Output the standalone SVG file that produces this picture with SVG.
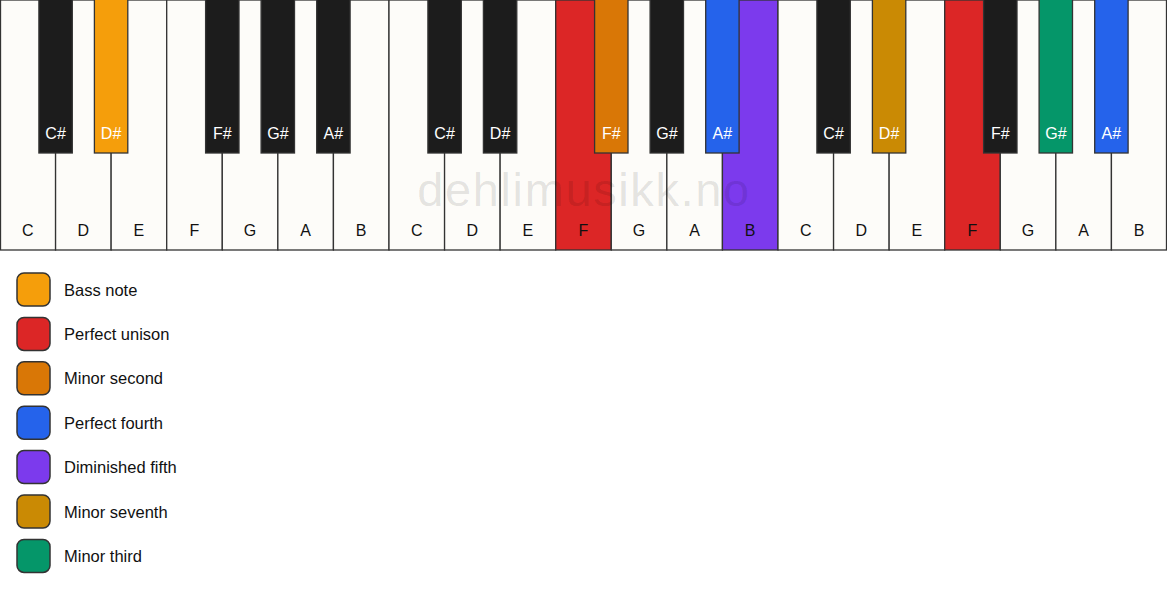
<svg xmlns="http://www.w3.org/2000/svg" width="1167" height="594" viewBox="0 0 1167 594">
<style>
.wk{fill:#fdfcf9;stroke:#333;stroke-width:1.3}
.bk{fill:#1c1c1c;stroke:#333;stroke-width:1.3}
.wl{font-family:"Liberation Sans",Arial,sans-serif;font-size:16px;fill:#111;text-anchor:middle}
.bl{font-family:"Liberation Sans",Arial,sans-serif;font-size:16px;fill:#fff;text-anchor:middle}
.sw{stroke:#333;stroke-width:1.5}
.lt{font-family:"Liberation Sans",Arial,sans-serif;font-size:16.5px;fill:#111}
.wm{font-family:"Liberation Sans",Arial,sans-serif;font-size:47px;fill:#000;fill-opacity:0.11;text-anchor:middle;letter-spacing:1.6px}
</style>
<rect width="1167" height="594" fill="#ffffff"/>
<g id="white-keys">
<g id="w0"><rect class="wk" x="0.5" y="0" width="55.07" height="250"/><text class="wl" x="27.8" y="236">C</text></g>
<g id="w1"><rect class="wk" x="55.57" y="0" width="55.57" height="250"/><text class="wl" x="83.4" y="236">D</text></g>
<g id="w2"><rect class="wk" x="111.14" y="0" width="55.57" height="250"/><text class="wl" x="138.9" y="236">E</text></g>
<g id="w3"><rect class="wk" x="166.71" y="0" width="55.57" height="250"/><text class="wl" x="194.5" y="236">F</text></g>
<g id="w4"><rect class="wk" x="222.29" y="0" width="55.57" height="250"/><text class="wl" x="250.1" y="236">G</text></g>
<g id="w5"><rect class="wk" x="277.86" y="0" width="55.57" height="250"/><text class="wl" x="305.6" y="236">A</text></g>
<g id="w6"><rect class="wk" x="333.43" y="0" width="55.57" height="250"/><text class="wl" x="361.2" y="236">B</text></g>
<g id="w7"><rect class="wk" x="389" y="0" width="55.57" height="250"/><text class="wl" x="416.8" y="236">C</text></g>
<g id="w8"><rect class="wk" x="444.57" y="0" width="55.57" height="250"/><text class="wl" x="472.4" y="236">D</text></g>
<g id="w9"><rect class="wk" x="500.14" y="0" width="55.57" height="250"/><text class="wl" x="527.9" y="236">E</text></g>
<g id="w10"><rect class="wk" x="555.71" y="0" width="55.57" height="250" style="fill:#dc2626"/><text class="wl" x="583.5" y="236">F</text></g>
<g id="w11"><rect class="wk" x="611.29" y="0" width="55.57" height="250"/><text class="wl" x="639.1" y="236">G</text></g>
<g id="w12"><rect class="wk" x="666.86" y="0" width="55.57" height="250"/><text class="wl" x="694.6" y="236">A</text></g>
<g id="w13"><rect class="wk" x="722.43" y="0" width="55.57" height="250" style="fill:#7c3aed"/><text class="wl" x="750.2" y="236">B</text></g>
<g id="w14"><rect class="wk" x="778" y="0" width="55.57" height="250"/><text class="wl" x="805.8" y="236">C</text></g>
<g id="w15"><rect class="wk" x="833.57" y="0" width="55.57" height="250"/><text class="wl" x="861.4" y="236">D</text></g>
<g id="w16"><rect class="wk" x="889.14" y="0" width="55.57" height="250"/><text class="wl" x="916.9" y="236">E</text></g>
<g id="w17"><rect class="wk" x="944.71" y="0" width="55.57" height="250" style="fill:#dc2626"/><text class="wl" x="972.5" y="236">F</text></g>
<g id="w18"><rect class="wk" x="1000.29" y="0" width="55.57" height="250"/><text class="wl" x="1028.1" y="236">G</text></g>
<g id="w19"><rect class="wk" x="1055.86" y="0" width="55.57" height="250"/><text class="wl" x="1083.6" y="236">A</text></g>
<g id="w20"><rect class="wk" x="1111.43" y="0" width="55.07" height="250"/><text class="wl" x="1139.2" y="236">B</text></g>
</g>
<text class="wm" x="584" y="206">dehlimusikk.no</text>
<g id="black-keys">
<g id="b1"><rect class="bk" x="38.9" y="-1" width="33.4" height="154"/><text class="bl" x="55.6" y="139">C#</text></g>
<g id="b2"><rect class="bk" x="94.4" y="-1" width="33.4" height="154" style="fill:#f59e0b"/><text class="bl" x="111.1" y="139">D#</text></g>
<g id="b4"><rect class="bk" x="205.6" y="-1" width="33.4" height="154"/><text class="bl" x="222.3" y="139">F#</text></g>
<g id="b5"><rect class="bk" x="261.1" y="-1" width="33.4" height="154"/><text class="bl" x="277.9" y="139">G#</text></g>
<g id="b6"><rect class="bk" x="316.7" y="-1" width="33.4" height="154"/><text class="bl" x="333.4" y="139">A#</text></g>
<g id="b8"><rect class="bk" x="427.9" y="-1" width="33.4" height="154"/><text class="bl" x="444.6" y="139">C#</text></g>
<g id="b9"><rect class="bk" x="483.4" y="-1" width="33.4" height="154"/><text class="bl" x="500.1" y="139">D#</text></g>
<g id="b11"><rect class="bk" x="594.6" y="-1" width="33.4" height="154" style="fill:#d97706"/><text class="bl" x="611.3" y="139">F#</text></g>
<g id="b12"><rect class="bk" x="650.1" y="-1" width="33.4" height="154"/><text class="bl" x="666.9" y="139">G#</text></g>
<g id="b13"><rect class="bk" x="705.7" y="-1" width="33.4" height="154" style="fill:#2563eb"/><text class="bl" x="722.4" y="139">A#</text></g>
<g id="b15"><rect class="bk" x="816.9" y="-1" width="33.4" height="154"/><text class="bl" x="833.6" y="139">C#</text></g>
<g id="b16"><rect class="bk" x="872.4" y="-1" width="33.4" height="154" style="fill:#ca8a04"/><text class="bl" x="889.1" y="139">D#</text></g>
<g id="b18"><rect class="bk" x="983.6" y="-1" width="33.4" height="154"/><text class="bl" x="1000.3" y="139">F#</text></g>
<g id="b19"><rect class="bk" x="1039.1" y="-1" width="33.4" height="154" style="fill:#059669"/><text class="bl" x="1055.9" y="139">G#</text></g>
<g id="b20"><rect class="bk" x="1094.7" y="-1" width="33.4" height="154" style="fill:#2563eb"/><text class="bl" x="1111.4" y="139">A#</text></g>
</g>
<g id="legend">
<g id="lg-bass"><rect class="sw" x="17" y="273" width="33" height="33" rx="7" fill="#f59e0b"/><text class="lt" x="64" y="295.5">Bass note</text></g>
<g id="lg-unison"><rect class="sw" x="17" y="317.4" width="33" height="33" rx="7" fill="#dc2626"/><text class="lt" x="64" y="339.9">Perfect unison</text></g>
<g id="lg-m2"><rect class="sw" x="17" y="361.8" width="33" height="33" rx="7" fill="#d97706"/><text class="lt" x="64" y="384.3">Minor second</text></g>
<g id="lg-p4"><rect class="sw" x="17" y="406.2" width="33" height="33" rx="7" fill="#2563eb"/><text class="lt" x="64" y="428.7">Perfect fourth</text></g>
<g id="lg-d5"><rect class="sw" x="17" y="450.6" width="33" height="33" rx="7" fill="#7c3aed"/><text class="lt" x="64" y="473.1">Diminished fifth</text></g>
<g id="lg-m7"><rect class="sw" x="17" y="495" width="33" height="33" rx="7" fill="#ca8a04"/><text class="lt" x="64" y="517.5">Minor seventh</text></g>
<g id="lg-m3"><rect class="sw" x="17" y="539.4" width="33" height="33" rx="7" fill="#059669"/><text class="lt" x="64" y="561.9">Minor third</text></g>
</g>
</svg>
